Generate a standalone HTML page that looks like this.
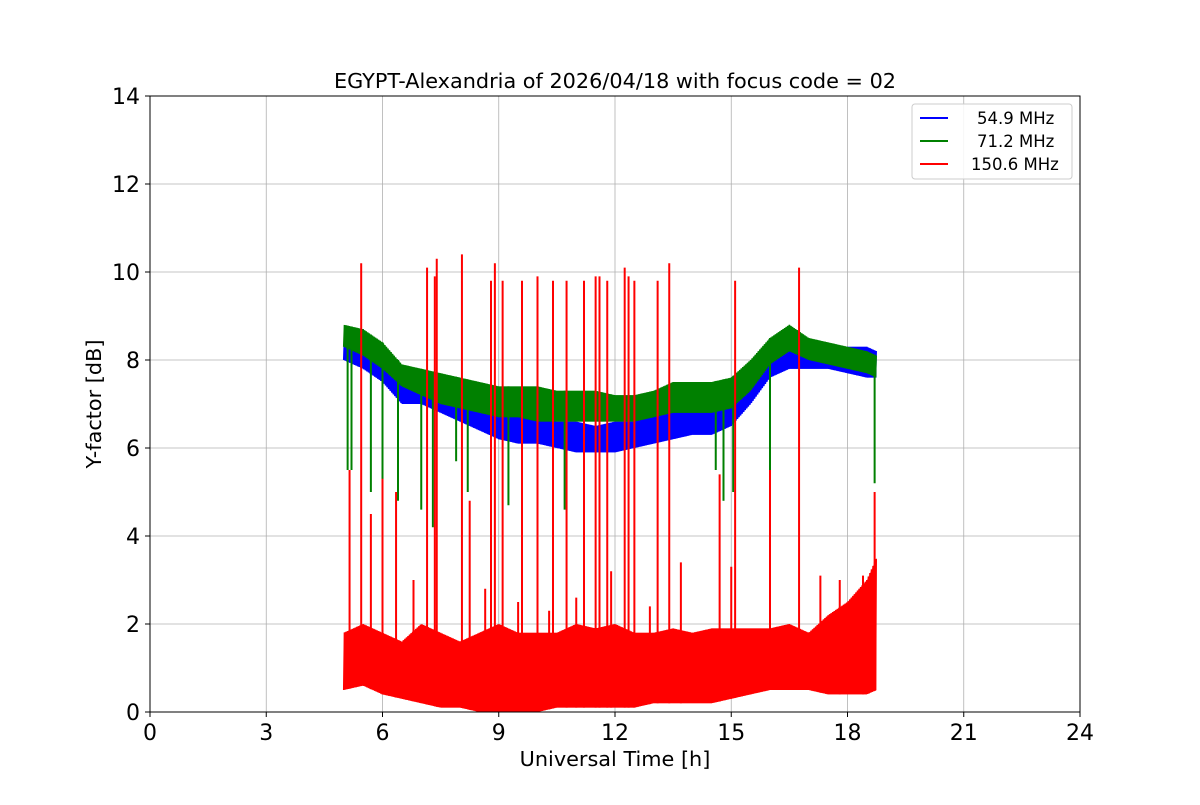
<!DOCTYPE html>
<html><head><meta charset="utf-8"><style>
body{margin:0;background:#fff;}
svg text{font-family:"DejaVu Sans","Liberation Sans",sans-serif;}
</style></head><body>
<svg id="chart" width="1200" height="800" xmlns="http://www.w3.org/2000/svg">
<rect width="1200" height="800" fill="#fff"/>
<g id="grid"></g>
<g id="series"></g>
<rect x="150" y="96" width="930" height="616" fill="none" stroke="#000" stroke-width="1"/>
<g id="axes"></g>
<text x="615" y="88" font-size="20.8" text-anchor="middle">EGYPT-Alexandria of 2026/04/18 with focus code = 02</text>
<text x="615" y="766" font-size="20.8" text-anchor="middle">Universal Time [h]</text>
<text transform="translate(101,404) rotate(-90)" font-size="20.8" text-anchor="middle">Y-factor [dB]</text>
<g>
<rect x="912" y="104" width="160" height="75" rx="3" fill="#fff" fill-opacity="0.85" stroke="#ccc"/>
<line x1="920" x2="948" y1="118" y2="118" stroke="blue" stroke-width="2"/>
<text x="977" y="124" font-size="16.5">54.9 MHz</text>
<line x1="920" x2="948" y1="141" y2="141" stroke="green" stroke-width="2"/>
<text x="977" y="147" font-size="16.5">71.2 MHz</text>
<line x1="920" x2="948" y1="164" y2="164" stroke="red" stroke-width="2"/>
<text x="971" y="170" font-size="16.5">150.6 MHz</text>
</g>
</svg>
<script>
const times=[5,5.5,6,6.5,7,7.5,8,8.5,9,9.5,10,10.5,11,11.5,12,12.5,13,13.5,14,14.5,15,15.5,16,16.5,17,17.5,18,18.5,18.75];
const blueLo=[8.0,7.8,7.5,7.0,7.0,6.8,6.6,6.4,6.2,6.1,6.1,6.0,5.9,5.9,5.9,6.0,6.1,6.2,6.3,6.3,6.5,7.0,7.6,7.8,7.8,7.8,7.7,7.6,7.6];
const blueHi=[8.5,8.7,8.3,7.6,7.5,7.4,7.2,7.0,6.9,6.8,6.7,6.6,6.6,6.5,6.6,6.6,6.8,6.9,7.0,7.0,7.2,7.8,8.3,8.5,8.4,8.2,8.3,8.3,8.2];
const greenLo=[8.3,8.1,7.8,7.4,7.2,7.0,6.9,6.8,6.7,6.7,6.6,6.6,6.6,6.6,6.6,6.6,6.7,6.8,6.8,6.8,6.9,7.3,7.9,8.2,8.0,7.9,7.8,7.7,7.6];
const greenHi=[8.8,8.7,8.4,7.9,7.8,7.7,7.6,7.5,7.4,7.4,7.4,7.3,7.3,7.3,7.2,7.2,7.3,7.5,7.5,7.5,7.6,8.0,8.5,8.8,8.5,8.4,8.3,8.2,8.1];
const redLo=[0.5,0.6,0.4,0.3,0.2,0.1,0.1,0.0,0.0,0.0,0.0,0.1,0.1,0.1,0.1,0.1,0.2,0.2,0.2,0.2,0.3,0.4,0.5,0.5,0.5,0.4,0.4,0.4,0.5];
const redHi=[1.8,2.0,1.8,1.6,2.0,1.8,1.6,1.8,2.0,1.8,1.8,1.8,2.0,1.9,2.0,1.8,1.8,1.9,1.8,1.9,1.9,1.9,1.9,2.0,1.8,2.2,2.5,3.0,3.5];
const greenDropT=[5.1,5.2,5.7,6.0,6.4,7.0,7.3,7.9,8.2,8.8,9.25,10.7,14.6,14.8,15.05,16.0,18.7];
const greenDropV=[5.5,5.5,5.0,4.8,4.8,4.6,4.2,5.7,5.0,4.5,4.7,4.6,5.5,4.8,5.0,5.5,5.2];
const redSpikeT=[5.45,7.15,7.35,7.4,8.05,8.8,8.9,9.1,9.6,10.0,10.4,10.75,11.2,11.5,11.6,11.8,12.25,12.35,12.5,13.1,13.4,15.1,16.75,5.15,5.7,6.0,6.35,6.8,8.25,8.65,9.5,10.3,11.0,11.9,12.9,13.7,14.7,15.0,16.0,17.3,17.8,18.4,18.7];
const redSpikeV=[10.2,10.1,9.9,10.3,10.4,9.8,10.2,9.8,9.8,9.9,9.8,9.8,9.8,9.9,9.9,9.8,10.1,9.9,9.8,9.8,10.2,9.8,10.1,5.5,4.5,5.3,5.0,3.0,4.8,2.8,2.5,2.3,2.6,3.2,2.4,3.4,5.4,3.3,5.5,3.1,3.0,3.1,5.0];
const xTicks=[0,3,6,9,12,15,18,21,24];
const yTicks=[0,2,4,6,8,10,12,14];
const NS='http://www.w3.org/2000/svg';
const X=t=>150+t/24*930, Y=v=>712-v/14*616;
function mk(tag,attrs,parent){const e=document.createElementNS(NS,tag);for(const k in attrs)e.setAttribute(k,attrs[k]);parent.appendChild(e);return e;}
const grid=document.getElementById('grid'),axes=document.getElementById('axes'),ser=document.getElementById('series');
xTicks.forEach(t=>{
 const l=mk('line',{x1:X(t),x2:X(t),y1:96,y2:712,stroke:'#b0b0b0','stroke-width':0.8},grid);
 
 
 mk('line',{x1:X(t),x2:X(t),y1:712,y2:717,stroke:'#000'},axes);
 const tx=mk('text',{x:X(t),y:740,'font-size':22,'text-anchor':'middle'},axes);tx.textContent=t;
 
 
});
yTicks.forEach(v=>{
 const l=mk('line',{x1:150,x2:1080,y1:Y(v),y2:Y(v),stroke:'#b0b0b0','stroke-width':0.8},grid);
 
 
 mk('line',{x1:145,x2:150,y1:Y(v),y2:Y(v),stroke:'#000'},axes);
 const tx=mk('text',{x:140,y:Y(v)+8,'font-size':22,'text-anchor':'end'},axes);tx.textContent=v;
 
 
});
function interp(arr,t){for(let i=0;i<times.length-1;i++){if(t<=times[i+1]){const f=(t-times[i])/(times[i+1]-times[i]);return arr[i]+f*(arr[i+1]-arr[i]);}}return arr[arr.length-1];}
function band(lo,hi,color,name){
 let pts=[];let k=0;
 for(let t=times[0];t<=times[times.length-1]+1e-9;t+=0.02){pts.push(X(t)+','+Y(k%2?interp(hi,t):interp(lo,t)));k++;}
 const p=mk('polyline',{points:pts.join(' '),fill:'none',stroke:color,'stroke-width':1.6},ser);
 
 
 let poly=times.map((t,i)=>X(t)+','+Y(hi[i])).concat(times.slice().reverse().map((t,i)=>X(t)+','+Y(lo[times.length-1-i])));
 const f=mk('polygon',{points:poly.join(' '),fill:color,stroke:'none','fill-opacity':0.55},ser);
 
 
}
function spikes(T,V,base,color,name){
 T.forEach((t,i)=>{const b=interp(base,t);const l=mk('line',{x1:X(t),x2:X(t),y1:Y(b),y2:Y(V[i]),stroke:color,'stroke-width':2},ser);
 
 });
}
band(blueLo,blueHi,'blue','series-54-9-mhz');
band(greenLo,greenHi,'green','series-71-2-mhz');
spikes(greenDropT,greenDropV,greenHi,'green','green-dropout');
band(redLo,redHi,'red','series-150-6-mhz');
spikes(redSpikeT,redSpikeV,redLo,'red','red-spike');
</script>
</body></html>
